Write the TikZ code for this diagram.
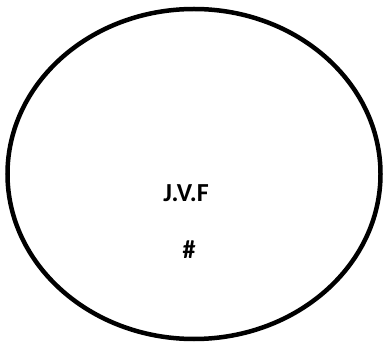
\documentclass[tikz,border=0pt]{standalone}
\usepackage{fontspec}
\setmainfont{Carlito}
\usetikzlibrary{positioning,shapes.geometric}
\tikzset{
  outline/.style={ellipse,draw=black,line width=4.5pt,inner sep=0pt,
    minimum width=373pt,minimum height=330pt},
  tag/.style={font=\bfseries\fontsize{26}{30}\selectfont,inner sep=0pt}
}

\begin{document}
\begin{tikzpicture}[x=1pt,y=-1pt]
    \useasboundingbox (0,0) rectangle (385,344);
    \node[outline] (shell) at (194,174) {};
    \node[tag] (name) at (186,193) {J.V.F};
    \node[tag] (mark) at (189,250) {\#};
  \end{tikzpicture}
\end{document}
